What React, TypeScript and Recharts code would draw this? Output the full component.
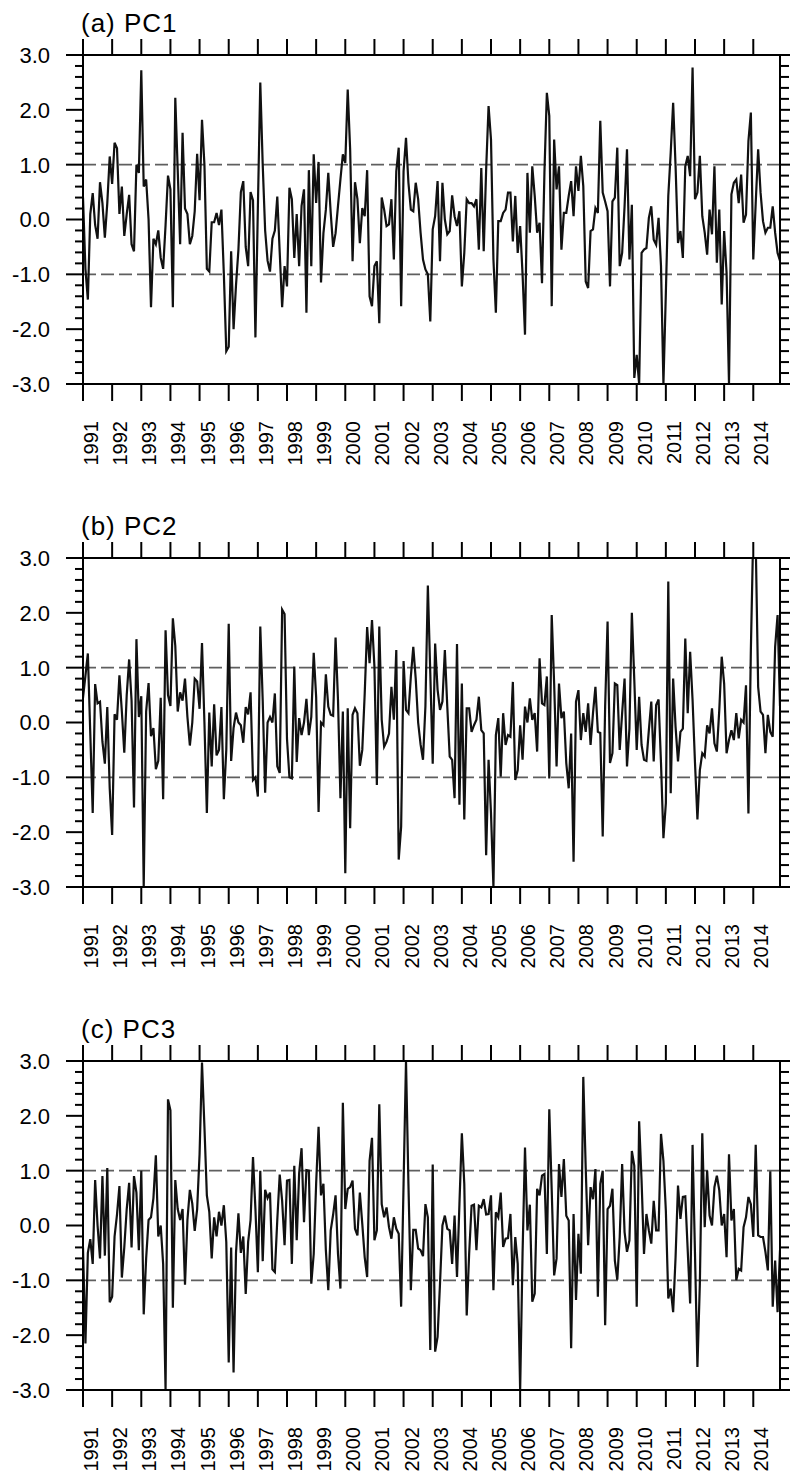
import React from 'react';
import { LineChart, Line, XAxis, YAxis, ReferenceLine } from 'recharts';

// ---------- data ----------
const YEARS = ['1991','1992','1993','1994','1995','1996','1997','1998','1999','2000','2001','2002','2003','2004','2005','2006','2007','2008','2009','2010','2011','2012','2013','2014'];

const PC1 = [
  0.4, -0.9, -1.46, 0.1, 0.48, -0.1, -0.35, 0.68, 0.3, -0.33, 0.3, 1.15,
  0.65, 1.4, 1.3, 0.1, 0.6, -0.3, 0.1, 0.45, -0.45, -0.58, 1.0, 0.85,
  2.72, 0.6, 0.73, 0.0, -1.6, -0.35, -0.45, -0.2, -0.7, -0.9, -0.1, 0.8,
  0.55, -1.6, 2.22, 0.9, -0.45, 1.58, 0.2, 0.1, -0.45, -0.3, 0.15, 1.2,
  0.35, 1.82, 1.0, -0.9, -0.95, -0.05, -0.05, 0.12, -0.1, 0.18, -1.0, -2.4,
  -2.32, -0.58, -2.0, -1.2, -0.55, 0.5, 0.7, -0.5, -0.85, 0.5, 0.35, -2.15,
  0.2, 2.5, 1.0, -0.2, -0.75, -0.95, -0.35, -0.2, 0.42, -0.6, -1.6, -0.85,
  -1.22, 0.58, 0.37, -0.7, 0.1, -0.85, 0.25, 0.55, -1.7, 0.9, -0.85, 1.19,
  0.3, 1.05, -1.15, -0.25, 0.18, 0.85, 0.12, -0.5, -0.25, 0.25, 0.73, 1.19,
  1.03, 2.37, 1.28, -0.76, 0.68, 0.37, -0.43, 0.21, 0.06, 0.9, -1.4, -1.58,
  -0.85, -0.76, -1.89, 0.4, 0.18, -0.12, -0.09, 0.37, -0.73, 0.88, 1.31, -1.58,
  0.88, 1.49, 0.67, 0.18, 0.15, 0.67, 0.37, -0.24, -0.73, -0.91, -1.0, -1.86,
  -0.18, 0.06, 0.7, -0.76, 0.67, 0.0, -0.27, -0.21, 0.44, 0.06, -0.12, 0.15,
  -1.22, -0.61, 0.37, 0.3, 0.3, 0.24, 0.37, -0.55, 0.94, -0.58, 0.91, 2.07,
  1.46, -0.73, -1.7, -0.03, -0.03, 0.12, 0.18, 0.49, 0.49, -0.4, 0.43, -0.61,
  -0.12, -1.0, -2.1, 0.85, -0.24, 0.97, 0.43, -0.24, -0.06, -1.16, 0.85, 2.31,
  1.89, -1.58, 1.46, 0.55, 0.97, -0.55, 0.12, 0.12, 0.43, 0.7, 0.06, 0.97,
  0.52, 1.16, 0.61, -1.13, -1.25, -0.21, -0.18, 0.21, 0.12, 1.8, 0.49, 0.33,
  0.15, -1.22, 0.33, 0.4, 1.31, -0.85, -0.61, 0.24, 1.28, -0.73, 0.27, -2.89,
  -2.47, -3.0, -0.61, -0.55, -0.52, 0.03, 0.24, -0.37, -0.46, 0.03, -0.85, -3.0,
  -1.34, 0.43, 1.22, 2.13, 0.97, -0.43, -0.21, -0.7, 0.97, 1.16, 0.79, 2.77,
  0.37, 0.49, 1.16, 0.06, -0.24, -0.64, 0.18, -0.27, 0.97, -0.79, 0.18, -1.55,
  -0.21, -0.97, -3.0, 0.46, 0.67, 0.73, 0.3, 0.82, -0.06, 0.09, 1.43, 1.95,
  -0.73, 0.3, 1.28, 0.49, -0.03, -0.24, -0.15, -0.15, 0.24, -0.24, -0.61, -0.75,
];

const PC2 = [
  0.45, 0.85, 1.26, -0.2, -1.65, 0.7, 0.35, 0.38, -0.35, -0.75, 0.28, -1.2,
  -2.05, 0.15, 0.05, 0.86, 0.2, -0.55, 0.5, 1.15, 0.4, -1.55, 1.52, 0.1,
  0.48, -3.0, 0.2, 0.72, -0.25, -0.1, -0.85, -0.7, 0.45, -1.4, 1.68, 0.5,
  0.3, 1.9, 1.4, 0.2, 0.55, 0.4, 0.8, 0.1, -0.42, 0.0, 0.8, 0.75,
  0.25, 1.45, 0.0, -1.65, 0.18, -0.8, 0.33, -0.6, -0.5, 0.28, -1.4, -0.5,
  1.8, -0.7, -0.1, 0.18, 0.0, -0.05, -0.37, 0.28, 0.15, 0.55, -1.05, -1.0,
  -1.35, 1.75, 0.4, -1.28, 0.0, 0.1, 0.0, 0.53, -0.8, -0.92, 2.06, 1.98,
  -0.3, -1.0, -1.02, 1.02, -0.72, 0.08, -0.23, 0.0, 0.43, -0.23, 0.1, 1.27,
  0.47, -1.63, 0.0, -0.05, 0.88, 0.29, 0.14, 0.12, 1.55, 0.41, -1.38, 0.2,
  -2.75, 0.26, -1.93, 0.14, 0.26, 0.17, -0.79, -0.5, 0.53, 1.74, 1.08, 1.87,
  1.02, -1.14, 1.75, 0.05, -0.44, -0.35, -0.2, 0.65, 0.05, 1.32, -2.5, -1.9,
  1.12, 0.23, 0.17, 0.84, 1.38, 0.8, 0.0, -0.4, -0.68, 0.3, 2.5, 0.9,
  -0.75, 1.44, 0.6, 0.23, 0.38, 1.32, 0.29, -0.62, -0.68, -1.38, 1.43, -1.5,
  0.71, -1.77, 0.26, 0.26, -0.17, -0.05, 0.05, 0.47, -0.14, -0.2, -2.42, -0.68,
  -1.66, -3.0, -0.23, 0.08, -0.99, 0.17, -0.41, -0.23, -0.26, 0.74, -1.05, -0.87,
  -0.05, -0.68, 0.29, 0.0, 0.44, 0.05, 0.17, -0.53, 1.17, 0.35, 0.32, 0.84,
  -1.02, 1.96, 0.71, -0.8, 0.71, 0.08, 0.2, -0.74, -1.2, -0.2, -2.54, 0.38,
  0.59, -0.32, 0.17, -0.17, 0.35, -0.41, 0.17, 0.65, -0.17, -0.19, -2.08, 0.29,
  1.84, -0.74, -0.56, 0.71, 0.68, -0.5, 0.17, 0.8, -0.8, -0.11, 2.0, 0.78,
  -0.5, 0.47, -0.41, -0.68, -0.7, -0.14, 0.38, -0.71, 0.32, 0.42, -0.74, -2.11,
  -1.47, 2.57, -1.29, 0.8, -0.08, -0.71, -0.17, -0.11, 1.53, 0.17, 1.29, 0.41,
  -0.74, -1.77, -0.87, -0.56, -0.62, -0.05, -0.2, 0.26, -0.38, -0.53, 0.23, 1.2,
  0.71, -0.56, -0.32, -0.14, -0.32, 0.17, -0.29, 0.05, 0.0, 0.68, -1.66, 1.32,
  3.5, 3.3, 0.65, 0.2, 0.14, -0.56, 0.14, -0.17, -0.26, 1.38, 1.96, 0.3,
];

const PC3 = [
  -0.4, -2.15, -0.5, -0.25, -0.7, 0.83, 0.0, -0.6, 0.9, -0.55, 1.05, -1.4,
  -1.3, -0.2, 0.2, 0.72, -0.95, -0.4, 0.3, 0.78, -0.4, 0.9, 0.6, -0.45,
  1.0, -1.62, -0.6, 0.1, 0.15, 0.5, 1.28, -0.2, 0.0, -0.7, -3.0, 2.3,
  2.1, -1.5, 0.83, 0.3, 0.1, 0.3, -1.08, 0.1, 0.65, 0.4, -0.1, 0.3,
  1.3, 2.97, 1.8, 0.55, 0.25, -0.6, 0.15, -0.2, 0.25, 0.0, 0.37, -0.3,
  -2.5, -0.4, -2.68, -0.5, 0.22, -0.5, -0.2, -1.25, -0.3, 0.1, 1.25, 0.3,
  -0.85, 1.0, -0.65, 0.65, 0.5, 0.6, -0.8, -0.85, 0.1, 0.93, 0.45, -0.36,
  0.82, 0.83, -0.7, 1.09, -0.27, 0.95, 1.41, 0.06, 1.01, 1.0, -1.06, -0.52,
  0.76, 1.8, 0.55, 0.76, -0.45, -1.18, -0.09, 0.2, 0.55, -0.52, -1.15, 2.24,
  0.3, 0.67, 0.7, 0.82, -0.06, -0.18, 0.6, 0.03, -0.58, -0.94, 1.18, 1.6,
  -0.27, -0.09, 2.21, 0.39, 0.15, 0.33, -0.03, -0.24, 0.15, -0.06, -0.15, -1.48,
  0.76, 3.0, 0.76, -1.18, -0.08, -0.08, -0.42, -0.45, -0.56, 0.39, 0.15, -2.27,
  1.11, -2.3, -2.03, -1.06, 0.0, 0.18, -0.06, -0.09, -0.7, 0.18, -0.94, 0.39,
  1.68, 0.76, -1.64, -0.52, 0.36, 0.38, -0.45, 0.36, 0.33, 0.48, 0.2, 0.21,
  0.55, -1.18, 0.24, 0.15, 0.6, -0.39, -0.24, -0.23, 0.21, -1.09, -0.21, -0.7,
  -3.0, -0.5, 1.42, -0.09, 0.38, -1.39, -1.24, 0.67, 0.55, 0.91, 0.94, -0.52,
  2.12, 0.64, -0.91, -0.6, 1.12, 0.52, 1.21, 0.18, 0.09, -2.24, 0.21, -1.36,
  -0.15, -0.88, 2.71, 1.05, -0.36, 0.7, 0.48, 1.03, -1.3, 0.76, 1.0, -1.82,
  0.3, 0.36, 0.67, -0.64, -0.99, -0.21, 1.12, -0.12, -0.48, -0.27, 1.36, 1.09,
  -1.48, 1.9, 0.82, -0.52, 0.21, -0.09, -0.33, 0.45, -0.09, -0.09, 1.67, 1.18,
  0.27, -1.33, -1.15, -1.58, -0.58, 0.73, 0.12, 0.52, 0.53, -0.45, -1.42, 1.47,
  -0.52, -2.58, -1.06, 1.68, -0.03, 1.0, 0.18, 0.0, 0.7, 0.91, 0.64, 0.0,
  0.21, -0.58, 1.3, 0.09, 0.3, -1.0, -0.79, -0.82, -0.03, 0.15, 0.52, 0.39,
  -0.21, 1.47, -0.18, -0.21, -0.21, -0.48, -0.82, 0.99, -1.48, -0.64, -1.58, -0.45,
];

const TITLES = ['(a) PC1', '(b) PC2', '(c) PC3'];
const SERIES_KEYS = ['a', 'b', 'c'];
const Y_MAJOR = [-3, -2, -1, 0, 1, 2, 3];
const THRESHOLDS = [-1, 1];

// ---------- layout ----------
const FONT = '"Liberation Sans", Arial, Helvetica, sans-serif';
const CHART_W = 790;
const CHART_H = 480;
const PANEL_TOPS = [0, 503, 1006];
const PLOT_H = 329;
const MARGIN = { top: 54, right: 9, bottom: CHART_H - 54 - 2 - PLOT_H, left: 82 };

const rows = PC1.map((v, i) => ({ m: i, a: PC1[i], b: PC2[i], c: PC3[i] }));
const X_TICKS = YEARS.map((_, i) => i * 12);
const Y_TICKS: number[] = [];
for (let i = 0; i < Y_MAJOR.length - 1; i++) {
  for (let k = 0; k < 5; k++) Y_TICKS.push(Math.round((Y_MAJOR[i] + k * 0.2) * 10) / 10);
}
Y_TICKS.push(Y_MAJOR[Y_MAJOR.length - 1]);

const isMajor = (v: number) => Y_MAJOR.some((t) => Math.abs(t - v) < 1e-6);

const LeftTick = (props: any) => {
  const { x, y, payload } = props;
  const v = payload.value;
  const major = isMajor(v);
  return (
    <g>
      <line x1={x - (major ? 17 : 8)} x2={x} y1={y} y2={y} stroke="#000" strokeWidth={2} />
      {major && (
        <text x={x - 33} y={y} dy="0.36em" textAnchor="end" fontSize={22} fontFamily={FONT} fill="#000">
          {Math.abs(v) < 1e-9 ? '0.0' : v.toFixed(1)}
        </text>
      )}
    </g>
  );
};

const RightTick = (props: any) => {
  const { x, y, payload } = props;
  const major = isMajor(payload.value);
  return <line x1={x} x2={x + (major ? 17 : 9)} y1={y} y2={y} stroke="#000" strokeWidth={2} />;
};

// bottom tick also draws the matching outward tick on the top border
const BottomTick = (props: any) => {
  const { x, y, payload } = props;
  const label = YEARS[Math.round(payload.value / 12)];
  const ty = y + 37;
  const top = y - PLOT_H;
  return (
    <g>
      <line x1={x} x2={x} y1={y} y2={y + 17} stroke="#000" strokeWidth={2} />
      <line x1={x} x2={x} y1={top - 16} y2={top} stroke="#000" strokeWidth={2} />
      <text
        x={x}
        y={ty}
        dy={15}
        textAnchor="end"
        transform={`rotate(-90, ${x}, ${ty})`}
        fontSize={20}
        fontFamily={FONT}
        fill="#000"
      >
        {label}
      </text>
    </g>
  );
};

const axisLine = { stroke: '#000', strokeWidth: 2 };

const Panel = ({ dataKey }: { dataKey: string }) => (
  <LineChart width={CHART_W} height={CHART_H} data={rows} margin={MARGIN}>
    <XAxis
      xAxisId="bottom"
      orientation="bottom"
      type="number"
      dataKey="m"
      domain={[0, 287]}
      allowDataOverflow
      ticks={X_TICKS}
      interval={0}
      height={1}
      tickSize={0}
      tickMargin={0}
      axisLine={axisLine}
      tickLine={false}
      tick={<BottomTick />}
    />
    <XAxis
      xAxisId="top"
      orientation="top"
      type="number"
      dataKey="m"
      domain={[0, 287]}
      allowDataOverflow
      ticks={X_TICKS}
      interval={0}
      height={1}
      tickSize={0}
      tickMargin={0}
      axisLine={axisLine}
      tickLine={false}
      tick={false}
    />
    <YAxis
      yAxisId="left"
      orientation="left"
      type="number"
      domain={[-3, 3]}
      allowDataOverflow
      ticks={Y_TICKS}
      interval={0}
      width={1}
      tickSize={0}
      tickMargin={0}
      axisLine={axisLine}
      tickLine={false}
      tick={<LeftTick />}
    />
    <YAxis
      yAxisId="right"
      orientation="right"
      type="number"
      domain={[-3, 3]}
      allowDataOverflow
      ticks={Y_TICKS}
      interval={0}
      width={1}
      tickSize={0}
      tickMargin={0}
      axisLine={axisLine}
      tickLine={false}
      tick={<RightTick />}
    />
    {THRESHOLDS.map((t) => (
      <ReferenceLine
        key={t}
        y={t}
        xAxisId="bottom"
        yAxisId="left"
        stroke="#5f5f5f"
        strokeWidth={1.6}
        strokeDasharray="13 5"
      />
    ))}
    <Line
      xAxisId="bottom"
      yAxisId="left"
      type="linear"
      dataKey={dataKey}
      stroke="#111"
      strokeWidth={2.2}
      dot={false}
      activeDot={false}
      isAnimationActive={false}
    />
  </LineChart>
);

export default function App() {
  return (
    <div
      style={{
        position: 'absolute',
        left: 0,
        top: 0,
        width: 790,
        height: 1478,
        background: '#fff',
        overflow: 'hidden',
      }}
    >
      <svg width={790} height={1478} style={{ position: 'absolute', left: 0, top: 0 }}>
        {TITLES.map((t, i) => (
          <text
            key={t}
            x={81}
            y={PANEL_TOPS[i] + 32}
            fontSize={26}
            letterSpacing={1}
            fontFamily={FONT}
            fill="#000"
          >
            {t}
          </text>
        ))}
      </svg>
      {SERIES_KEYS.map((k, i) => (
        <div key={k} style={{ position: 'absolute', left: 0, top: PANEL_TOPS[i] }}>
          <Panel dataKey={k} />
        </div>
      ))}
    </div>
  );
}
